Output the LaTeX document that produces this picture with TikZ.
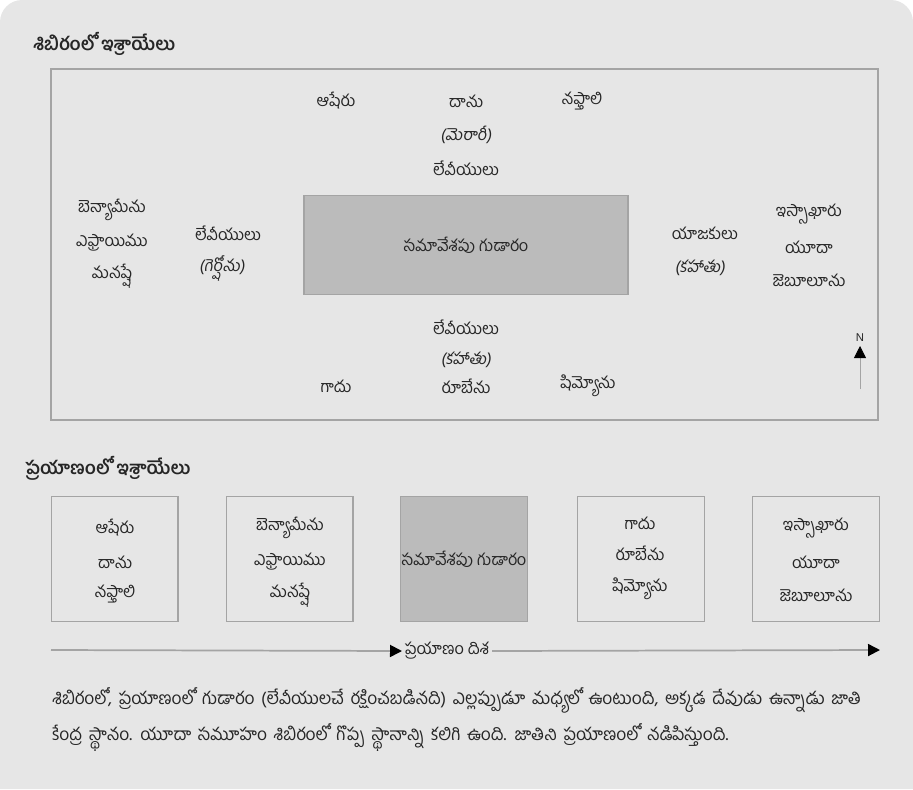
\documentclass[tikz,border=0pt]{standalone}
\usepackage{fontspec}
\setmainfont{Hind Guntur}[Script=Telugu]
\newfontfamily\teluguSlant{Hind Guntur}[Script=Telugu,FakeSlant=0.15]
\newfontfamily\latinSans{Liberation Sans}
\usetikzlibrary{arrows.meta,positioning}

\definecolor{pageGray}{HTML}{E6E6E6}
\definecolor{frameGray}{HTML}{A4A4A4}
\definecolor{tentGray}{HTML}{BBBBBB}
\definecolor{inkDark}{HTML}{262626}

\newcommand\noteFont{\fontsize{13}{15}\selectfont\spaceskip 5pt plus 1pt minus 1pt\relax}

\begin{document}
\begin{tikzpicture}[x=0.75pt,y=-0.75pt,
    tribe/.style={text=inkDark, font=\fontsize{12.2}{14}\selectfont, inner sep=1pt},
    clan/.style={tribe, font=\fontsize{12.2}{14}\selectfont\teluguSlant},
    note/.style={tribe, font=\noteFont, anchor=base west, inner sep=0pt},
    heading/.style={text=inkDark, font=\fontsize{13.6}{15}\selectfont\bfseries, inner sep=0pt, anchor=west},
    marchBox/.style={draw=frameGray, line width=1pt, fill=pageGray, minimum width=95pt, minimum height=94pt, inner sep=0pt},
    tentBox/.style={draw=frameGray, line width=1pt, fill=tentGray, inner sep=0pt}]

    % Page
    \useasboundingbox (0,0) rectangle (913,789);
    \fill[pageGray] (0,789) -- (0,22) arc[start angle=180, end angle=270, radius=22]
        -- (891,0) arc[start angle=270, end angle=360, radius=22] -- (913,789) -- cycle;

    %%%% Camp
    \node[heading] (campTitle) at (33,44) {శిబిరంలో ఇశ్రాయేలు};
    \draw[frameGray, line width=1pt] (51,69) rectangle (878,420);

    % Tent
    \node[tentBox, minimum width=243pt, minimum height=74pt, tribe] (campTent) at (466,245) {సమావేశపు గుడారం};

    % North side
    \node[tribe] (campAsher) at (336,101) {ఆషేరు};
    \node[tribe] (campDan) at (466,101) {దాను};
    \node[tribe] (campNaphtali) at (582,101) {నఫ్తాలి};
    \node[clan] (campMerari) at (466,135) {(మెరారీ)};
    \node[tribe] (campLeviN) at (466,168) {లేవీయులు};

    % West side
    \node[tribe] (campBenjamin) at (112,210) {బెన్యామీను};
    \node[tribe] (campEphraim) at (112,243) {ఎఫ్రాయిము};
    \node[tribe] (campManasseh) at (112,276) {మనష్షే};
    \node[tribe] (campLeviW) at (228,233) {లేవీయులు};
    \node[clan] (campGershon) at (222,268) {(గెర్షోను)};

    % East side
    \node[tribe] (campPriests) at (705,233) {యాజకులు};
    \node[clan] (campKohathE) at (700,268) {(కహాతు)};
    \node[tribe] (campIssachar) at (809,214) {ఇస్సాఖారు};
    \node[tribe] (campJudah) at (809,247) {యూదా};
    \node[tribe] (campZebulun) at (809,280) {జెబూలూను};

    % South side
    \node[tribe] (campLeviS) at (466,327) {లేవీయులు};
    \node[clan] (campKohathS) at (466,360) {(కహాతు)};
    \node[tribe] (campGad) at (336,386) {గాదు};
    \node[tribe] (campReuben) at (466,386) {రూబేను};
    \node[tribe] (campSimeon) at (588,386) {షిమ్యోను};

    % North arrow
    \coordinate (northBase) at (860,389);
    \coordinate (northTip) at (860,346);
    \draw[frameGray, line width=0.6pt, -{Triangle[length=9pt,width=9pt,color=black]}] (northBase) -- (northTip);
    \node[text=inkDark, font=\latinSans\fontsize{8.5}{10}\selectfont, inner sep=0pt, above=3pt of northTip] (northLabel) {N};

    %%%% March
    \node[heading] (marchTitle) at (25,468) {ప్రయాణంలో ఇశ్రాయేలు};

    \node[marchBox] (marchFirst) at (114.5,559) {};
    \node[marchBox] (marchSecond) at (289.5,559) {};
    \node[marchBox, fill=tentGray, tribe] (marchTent) at (464,559) {సమావేశపు గుడారం};
    \node[marchBox] (marchFourth) at (641,559) {};
    \node[marchBox] (marchFifth) at (816,559) {};

    % Box texts
    \node[tribe] (marchAsher) at (115,528) {ఆషేరు};
    \node[tribe] (marchDan) at (115,562) {దాను};
    \node[tribe] (marchNaphtali) at (115,594) {నఫ్తాలి};
    \node[tribe] (marchBenjamin) at (290,528) {బెన్యామీను};
    \node[tribe] (marchEphraim) at (290,562) {ఎఫ్రాయిము};
    \node[tribe] (marchManasseh) at (290,595) {మనష్షే};
    \node[tribe] (marchGad) at (640,523) {గాదు};
    \node[tribe] (marchReuben) at (640,553) {రూబేను};
    \node[tribe] (marchSimeon) at (640,589) {షిమ్యోను};
    \node[tribe] (marchIssachar) at (816,528) {ఇస్సాఖారు};
    \node[tribe] (marchJudah) at (816,562) {యూదా};
    \node[tribe] (marchZebulun) at (816,595) {జెబూలూను};

    % Direction
    \coordinate (dirStart) at (51,650);
    \coordinate (dirEnd) at (880,650);
    \node[tribe, anchor=west, inner sep=2pt] (dirLabel) at (402,651) {ప్రయాణం దిశ};
    \draw[frameGray, line width=1.3pt, -{Triangle[length=9pt,width=9pt,color=black]}] (dirStart) -- (dirLabel.west);
    \draw[frameGray, line width=1.3pt, -{Triangle[length=9pt,width=9pt,color=black]}] (dirLabel.east) -- (dirEnd);

    % Note
    \node[note] (noteFirst) at (52,704) {శిబిరంలో, ప్రయాణంలో గుడారం (లేవీయులచే రక్షించబడినది) ఎల్లప్పుడూ మధ్యలో ఉంటుంది, అక్కడ దేవుడు ఉన్నాడు జాతి};
    \node[note] (noteSecond) at (52,740) {కేంద్ర స్థానం. యూదా సమూహం శిబిరంలో గొప్ప స్థానాన్ని కలిగి ఉంది. జాతిని ప్రయాణంలో నడిపిస్తుంది.};

\end{tikzpicture}
\end{document}
